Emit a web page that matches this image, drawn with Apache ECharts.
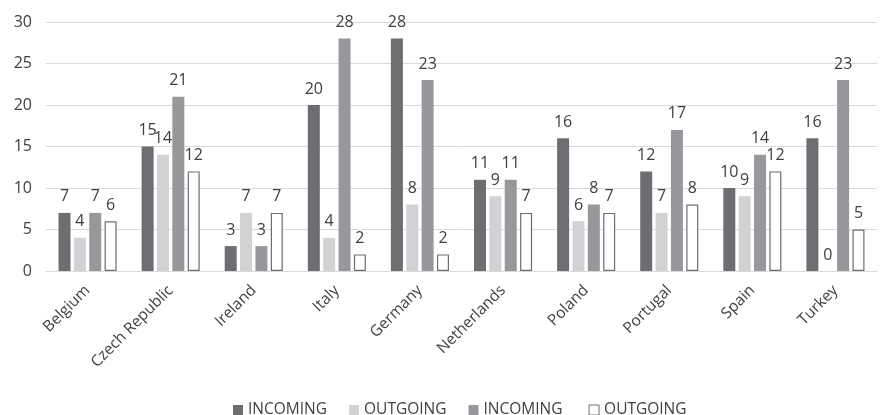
<!DOCTYPE html>
<html>
<head>
<meta charset="utf-8">
<script src="https://cdn.jsdelivr.net/npm/echarts@6/dist/echarts.min.js"></script>
<style>
  html, body { margin: 0; padding: 0; background: #fff; }
  #chart { width: 881px; height: 415px; }
</style>
</head>
<body>
<div id="chart"></div>
<script>
var countries = ["Belgium", "Czech Republic", "Ireland", "Italy", "Germany", "Netherlands", "Poland", "Portugal", "Spain", "Turkey"];
var incoming1 = [7, 15, 3, 20, 28, 11, 16, 12, 10, 16];
var outgoing1 = [4, 14, 7, 4, 8, 9, 6, 7, 9, 0];
var incoming2 = [7, 21, 3, 28, 23, 11, 8, 17, 14, 23];
var outgoing2 = [6, 12, 7, 2, 2, 7, 7, 8, 12, 5];
var yTicks = [0, 5, 10, 15, 20, 25, 30];

var chart = echarts.init(document.getElementById("chart"));

var labelStyle = {
  show: true,
  position: "top",
  distance: 8,
  color: "#404040",
  fontSize: 16,
  fontFamily: "Open Sans"
};

function barSeries(name, data, color, border) {
  return {
    name: name,
    type: "bar",
    data: data,
    barWidth: 12,
    barGap: "28%",
    itemStyle: {
      color: color,
      borderColor: border || color,
      borderWidth: border ? 1.2 : 0
    },
    label: labelStyle
  };
}

var option = {
  backgroundColor: "#fff",
  animation: false,
  grid: { left: 46, right: 4, top: 22, bottom: 144 },
  legend: {
    top: 397,
    left: 228,
    itemWidth: 10,
    itemHeight: 10,
    itemGap: 22,
    icon: "rect",
    textStyle: { color: "#404040", fontSize: 15.5, fontFamily: "Open Sans" },
    data: [
      { name: "INCOMING" },
      { name: "OUTGOING" },
      { name: "INCOMING " },
      { name: "OUTGOING ", itemStyle: { color: "#fff", borderColor: "#6d6e71", borderWidth: 1 } }
    ]
  },
  xAxis: {
    type: "category",
    data: countries,
    axisLine: { lineStyle: { color: "#d9d9d9" } },
    axisTick: { show: false },
    axisLabel: {
      rotate: 45,
      color: "#404040",
      fontSize: 15.5,
      fontFamily: "Open Sans",
      margin: 17,
      interval: 0
    }
  },
  yAxis: {
    type: "value",
    min: yTicks[0],
    max: yTicks[yTicks.length - 1],
    interval: 5,
    axisLine: { show: false },
    axisTick: { show: false },
    splitLine: { lineStyle: { color: "#d9d9d9" } },
    axisLabel: { color: "#404040", fontSize: 16, fontFamily: "Open Sans", margin: 14 }
  },
  series: [
    barSeries("INCOMING", incoming1, "#6d6e71"),
    barSeries("OUTGOING", outgoing1, "#d1d2d4"),
    barSeries("INCOMING ", incoming2, "#97989b"),
    barSeries("OUTGOING ", outgoing2, "#ffffff", "#6d6e71")
  ]
};

chart.setOption(option);
</script>
</body>
</html>
